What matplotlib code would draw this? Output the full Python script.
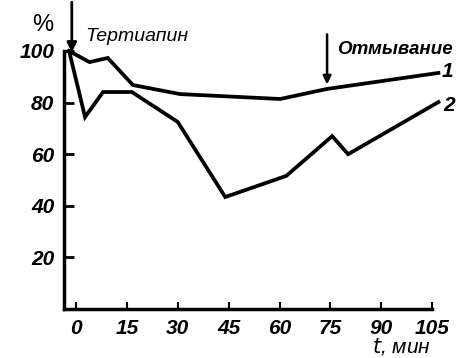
import matplotlib.pyplot as plt

# время, мин; доля от исходной величины, %
t1 = [-2, 4, 9.4, 16.8, 30.7, 60.2, 74, 106.8]
y1 = [100, 95.7, 97.3, 86.8, 83.3, 81.4, 85.3, 91.5]

t2 = [-2, 2.7, 8, 16.5, 30, 44, 62, 75.5, 80.2, 106.8]
y2 = [100, 74.4, 84.1, 84.1, 72.5, 43.4, 51.6, 67, 60, 80.2]

xticks = [0, 15, 30, 45, 60, 75, 90, 105]
yticks = [20, 40, 60, 80, 100]

plt.rcParams['font.family'] = ['Liberation Sans', 'DejaVu Sans']
plt.rcParams['font.style'] = 'italic'

fig = plt.figure(figsize=(4.7, 3.58), dpi=100)
ax = fig.add_axes([64 / 470, 49 / 358, 370 / 470, 258 / 358])

ax.plot(t1, y1, 'k', lw=2.7, clip_on=False, solid_joinstyle='miter')
ax.plot(t2, y2, 'k', lw=2.7, clip_on=False, solid_joinstyle='miter')

ax.set_xlim(-3.5, 105.5)
ax.set_ylim(0, 100)
ax.spines['top'].set_visible(False)
ax.spines['right'].set_visible(False)
ax.spines['left'].set_linewidth(2.5)
ax.spines['bottom'].set_linewidth(2.5)
ax.spines['bottom'].set_bounds(-3.5, 105)

ax.set_xticks(xticks)
ax.set_yticks(yticks)
ax.tick_params(axis='x', direction='in', length=5, width=1.5, pad=7, labelsize=15)
ax.tick_params(axis='y', direction='in', length=7, width=2, pad=7, labelsize=15)
for lb in ax.get_xticklabels() + ax.get_yticklabels():
    lb.set_fontweight('bold')
    lb.set_fontstyle('italic')

# стрелки: добавление тертиапина и отмывание
ax.annotate('', xy=(-1.2, 98.4), xytext=(-1.2, 120),
            arrowprops=dict(arrowstyle='-|>', color='k', lw=2, mutation_scale=14),
            annotation_clip=False)
ax.annotate('', xy=(74, 86), xytext=(74, 107.5),
            arrowprops=dict(arrowstyle='-|>', color='k', lw=1.8, mutation_scale=12),
            annotation_clip=False)

ax.text(2.7, 104, 'Тертиапин', fontsize=14, ha='left', va='baseline', clip_on=False)
ax.text(77, 100.5, 'Отмывание', fontsize=13.5, fontweight='bold', ha='left', va='center', clip_on=False)
ax.text(109.4, 92, '1', fontsize=15, fontweight='bold', ha='center', va='center', clip_on=False)
ax.text(110, 79, '2', fontsize=15, fontweight='bold', ha='center', va='center', clip_on=False)
ax.text(-9.8, 110, '%', fontsize=17, ha='center', va='center', style='normal', clip_on=False)
ax.text(96, -14.5, '$t$, мин', fontsize=15, ha='center', va='center', clip_on=False)

fig.savefig('out.png', dpi=100)
